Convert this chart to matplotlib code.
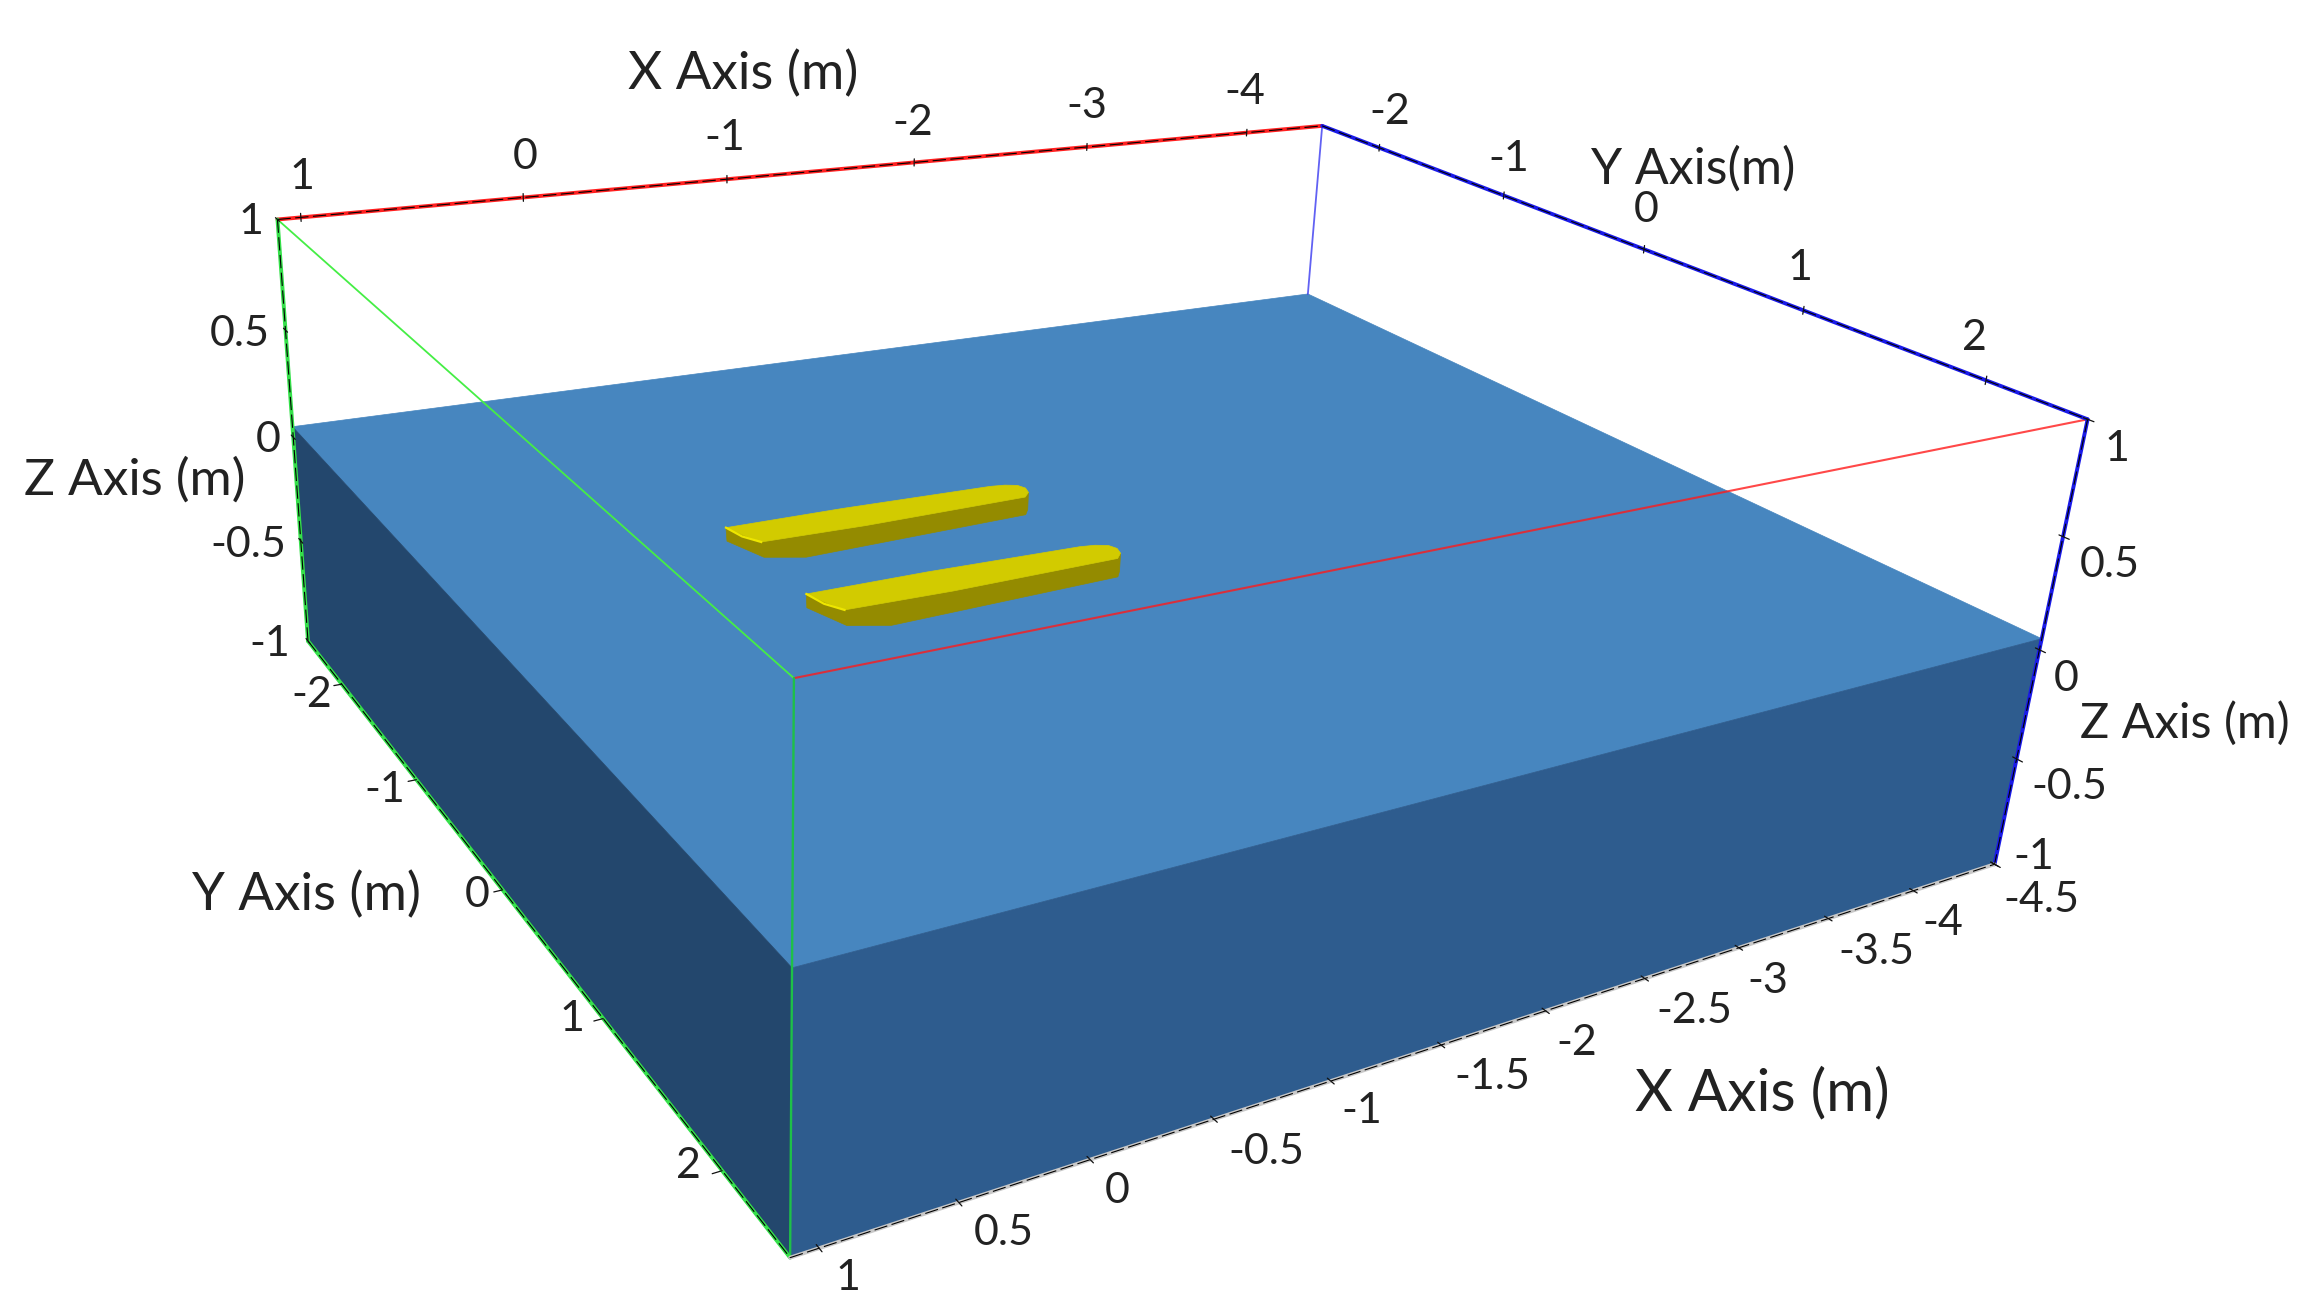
import matplotlib
matplotlib.use('Agg')
import matplotlib.pyplot as plt
from matplotlib.patches import Polygon
import numpy as np

# Domain of the scene (metres)
x_min, x_max = -4.5, 1.1
y_min, y_max = -2.5, 2.5
z_min, z_water, z_max = -1.0, 0.05, 1.0

# Axis ticks
x_top_ticks = [1, 0, -1, -2, -3, -4]
x_bottom_ticks = [1, 0.5, 0, -0.5, -1, -1.5, -2, -2.5, -3, -3.5, -4, -4.5]
y_ticks = [-2, -1, 0, 1, 2]
z_ticks = [1, 0.5, 0, -0.5, -1]

# Hull outlines, x and y in metres
deck_x = [-0.07, -0.6, -1.295, -1.36, -1.409, -1.425, -1.411, -1.37, -0.6, -0.135, -0.10]
deck_y = [-0.50, -0.50, -0.477, -0.465, -0.441, -0.40, -0.352, -0.31, -0.295, -0.307, -0.40]
keel_x = [-0.094, -0.159, -0.314, -1.373, -1.411]
keel_y = [-0.543, -0.33, -0.263, -0.305, -0.352]
side_deck_x = [-1.411, -1.37, -0.6, -0.135, -0.07]
side_deck_y = [-0.352, -0.31, -0.295, -0.307, -0.50]
hull_spacing = [0.0, 0.73]
deck_height = 0.08

# Camera fit: scene corners and where they land in the image
cal_xyz = [(x_max, y_min, z_max), (x_min, y_min, z_max), (x_min, y_max, z_max), (x_max, y_max, z_max),
           (x_max, y_min, z_water), (x_min, y_min, z_water), (x_min, y_max, z_water), (x_max, y_max, z_water),
           (x_max, y_min, z_min), (x_min, y_max, z_min), (x_max, y_max, z_min)]
cal_px = [(276, 220), (1322, 126), (2089, 420), (794, 682),
          (294, 425), (1308, 294), (2040, 637), (793, 962),
          (308, 642), (1995, 865), (789, 1260)]

rows = []
for (X, Y, Z), (u, v) in zip(cal_xyz, cal_px):
    rows.append([X, Y, Z, 1, 0, 0, 0, 0, -u*X, -u*Y, -u*Z, -u])
    rows.append([0, 0, 0, 0, X, Y, Z, 1, -v*X, -v*Y, -v*Z, -v])
cam = np.linalg.svd(np.array(rows, dtype=float))[2][-1].reshape(3, 4)


def project(x, y, z):
    h = cam @ np.array([x, y, z, 1.0])
    return h[0] / h[2], h[1] / h[2]


def line3d(p, q, **kw):
    a, b = project(*p), project(*q)
    ax.plot([a[0], b[0]], [a[1], b[1]], solid_capstyle='round', **kw)


def face(corners, color, zorder=1):
    ax.add_patch(Polygon([project(*c) for c in corners], closed=True, fc=color, ec=color, lw=0.5, zorder=zorder))


fig = plt.figure(figsize=(23.23, 13.11), dpi=100)
ax = fig.add_axes([0, 0, 1, 1])
ax.set_xlim(0, 2323)
ax.set_ylim(1311, 0)
ax.axis('off')

# Water block
face([(x_max, y_min, z_water), (x_min, y_min, z_water), (x_min, y_max, z_water), (x_max, y_max, z_water)], '#4786bf')
face([(x_max, y_min, z_water), (x_max, y_max, z_water), (x_max, y_max, z_min), (x_max, y_min, z_min)], '#23476d')
face([(x_max, y_max, z_water), (x_min, y_max, z_water), (x_min, y_max, z_min), (x_max, y_max, z_min)], '#2e5c8e')

# Hulls
deck_z = z_water + deck_height
for dy in hull_spacing:
    side = [(a, b + dy, z_water) for a, b in zip(keel_x, keel_y)]
    side += [(a, b + dy, deck_z) for a, b in zip(side_deck_x, side_deck_y)]
    face(side, '#948b00', zorder=2)
    face([(a, b + dy, deck_z) for a, b in zip(deck_x, deck_y)], '#d2cb00', zorder=3)
    bow = [project(a, b + dy, deck_z) for a, b in zip([-0.07, -0.09, -0.135], [-0.50, -0.39, -0.307])]
    ax.plot(*zip(*bow), color='#eee600', lw=1.6, zorder=4)

# Bounding box edges: the thin ones first
RED, GREEN, BLUE = '#ff1a1a', '#35e04a', '#1a1ae8'
line3d((x_max, y_min, z_max), (x_max, y_max, z_max), color='#45ee45', lw=1.3, zorder=5)
line3d((x_max, y_max, z_max), (x_min, y_max, z_max), color=RED, lw=1.5, alpha=0.8, zorder=5)
line3d((x_min, y_min, z_max), (x_min, y_min, z_water), color='#3a3af0', lw=1.3, alpha=0.8, zorder=5)
line3d((x_max, y_max, z_max), (x_max, y_max, z_min), color='#1ec048', lw=1.7, zorder=5)

# Outer axes, coloured edge with a black dashed line on top
dash = (0, (12, 4))
axes_edges = [((x_max, y_min, z_max), (x_min, y_min, z_max), '#ff2020', dash),
              ((x_max, y_min, z_max), (x_max, y_min, z_min), GREEN, dash),
              ((x_max, y_min, z_min), (x_max, y_max, z_min), GREEN, dash),
              ((x_min, y_min, z_max), (x_min, y_max, z_max), BLUE, dash),
              ((x_min, y_max, z_max), (x_min, y_max, z_min), BLUE, dash),
              ((x_max, y_max, z_min), (x_min, y_max, z_min), '#c8c8c8', dash)]
for p, q, col, ls in axes_edges:
    line3d(p, q, color=col, lw=2.8, zorder=6)
    line3d(p, q, color='black', lw=0.8, ls=ls, zorder=7)

# Tick marks
tk = dict(color='#111111', lw=0.9, zorder=8)
for v in x_top_ticks:
    line3d((v, y_min, z_max - 0.018), (v, y_min, z_max + 0.018), **tk)
for v in x_bottom_ticks:
    line3d((v, y_max + 0.02, z_min), (v, y_max - 0.02, z_min), **tk)
for v in y_ticks:
    line3d((x_min, v, z_max - 0.018), (x_min, v, z_max + 0.018), **tk)
    line3d((x_max + 0.035, v, z_min), (x_max, v, z_min), **tk)
for v in z_ticks:
    line3d((x_max, y_min - 0.03, v), (x_max, y_min + 0.03, v), **tk)
    line3d((x_min, y_max + 0.03, v), (x_min, y_max - 0.02, v), **tk)


def fmt(v):
    return f'{v:g}'


# Tick label placement in image pixels, same order as the tick lists
x_top_pos = [(302, 174), (525, 154), (725, 135), (913, 120), (1087, 103), (1245, 89)]
z_left_pos = [(251, 219), (240, 331), (268, 437), (248, 542), (270, 641)]
y_top_pos = [(1390, 109), (1509, 156), (1646, 207), (1800, 265), (1974, 335)]
z_right_pos = [(2117, 446), (2110, 562), (2066, 676), (2069, 784), (2034, 854)]
y_left_pos = [(312, 692), (385, 787), (477, 892), (572, 1016), (688, 1163)]
x_bottom_pos = [(848, 1275), (1004, 1230), (1117, 1188), (1266, 1149), (1362, 1108), (1492, 1074),
                (1577, 1040), (1694, 1008), (1768, 978), (1876, 949), (1943, 920), (2041, 897)]

label_sets = [(x_top_ticks, x_top_pos), (z_ticks, z_left_pos), (y_ticks, y_top_pos),
              (z_ticks, z_right_pos), (y_ticks, y_left_pos), (x_bottom_ticks, x_bottom_pos)]
txt = dict(family='Lato', color='#222222', ha='center', va='center', zorder=9)
for ticks, pos in label_sets:
    for v, (px, py) in zip(ticks, pos):
        ax.text(px, py + 3, fmt(v), fontsize=31, **txt)

ax.text(743, 74, 'X Axis (m)', fontsize=38, **txt)
ax.text(135, 480, 'Z Axis (m)', fontsize=37, **txt)
ax.text(1693, 169, 'Y Axis(m)', fontsize=36, **txt)
ax.text(2185, 723, 'Z Axis (m)', fontsize=35, **txt)
ax.text(307, 895, 'Y Axis (m)', fontsize=38, **txt)
ax.text(1762, 1094, 'X Axis (m)', fontsize=42, **txt)

fig.savefig('out.png', dpi=100)
